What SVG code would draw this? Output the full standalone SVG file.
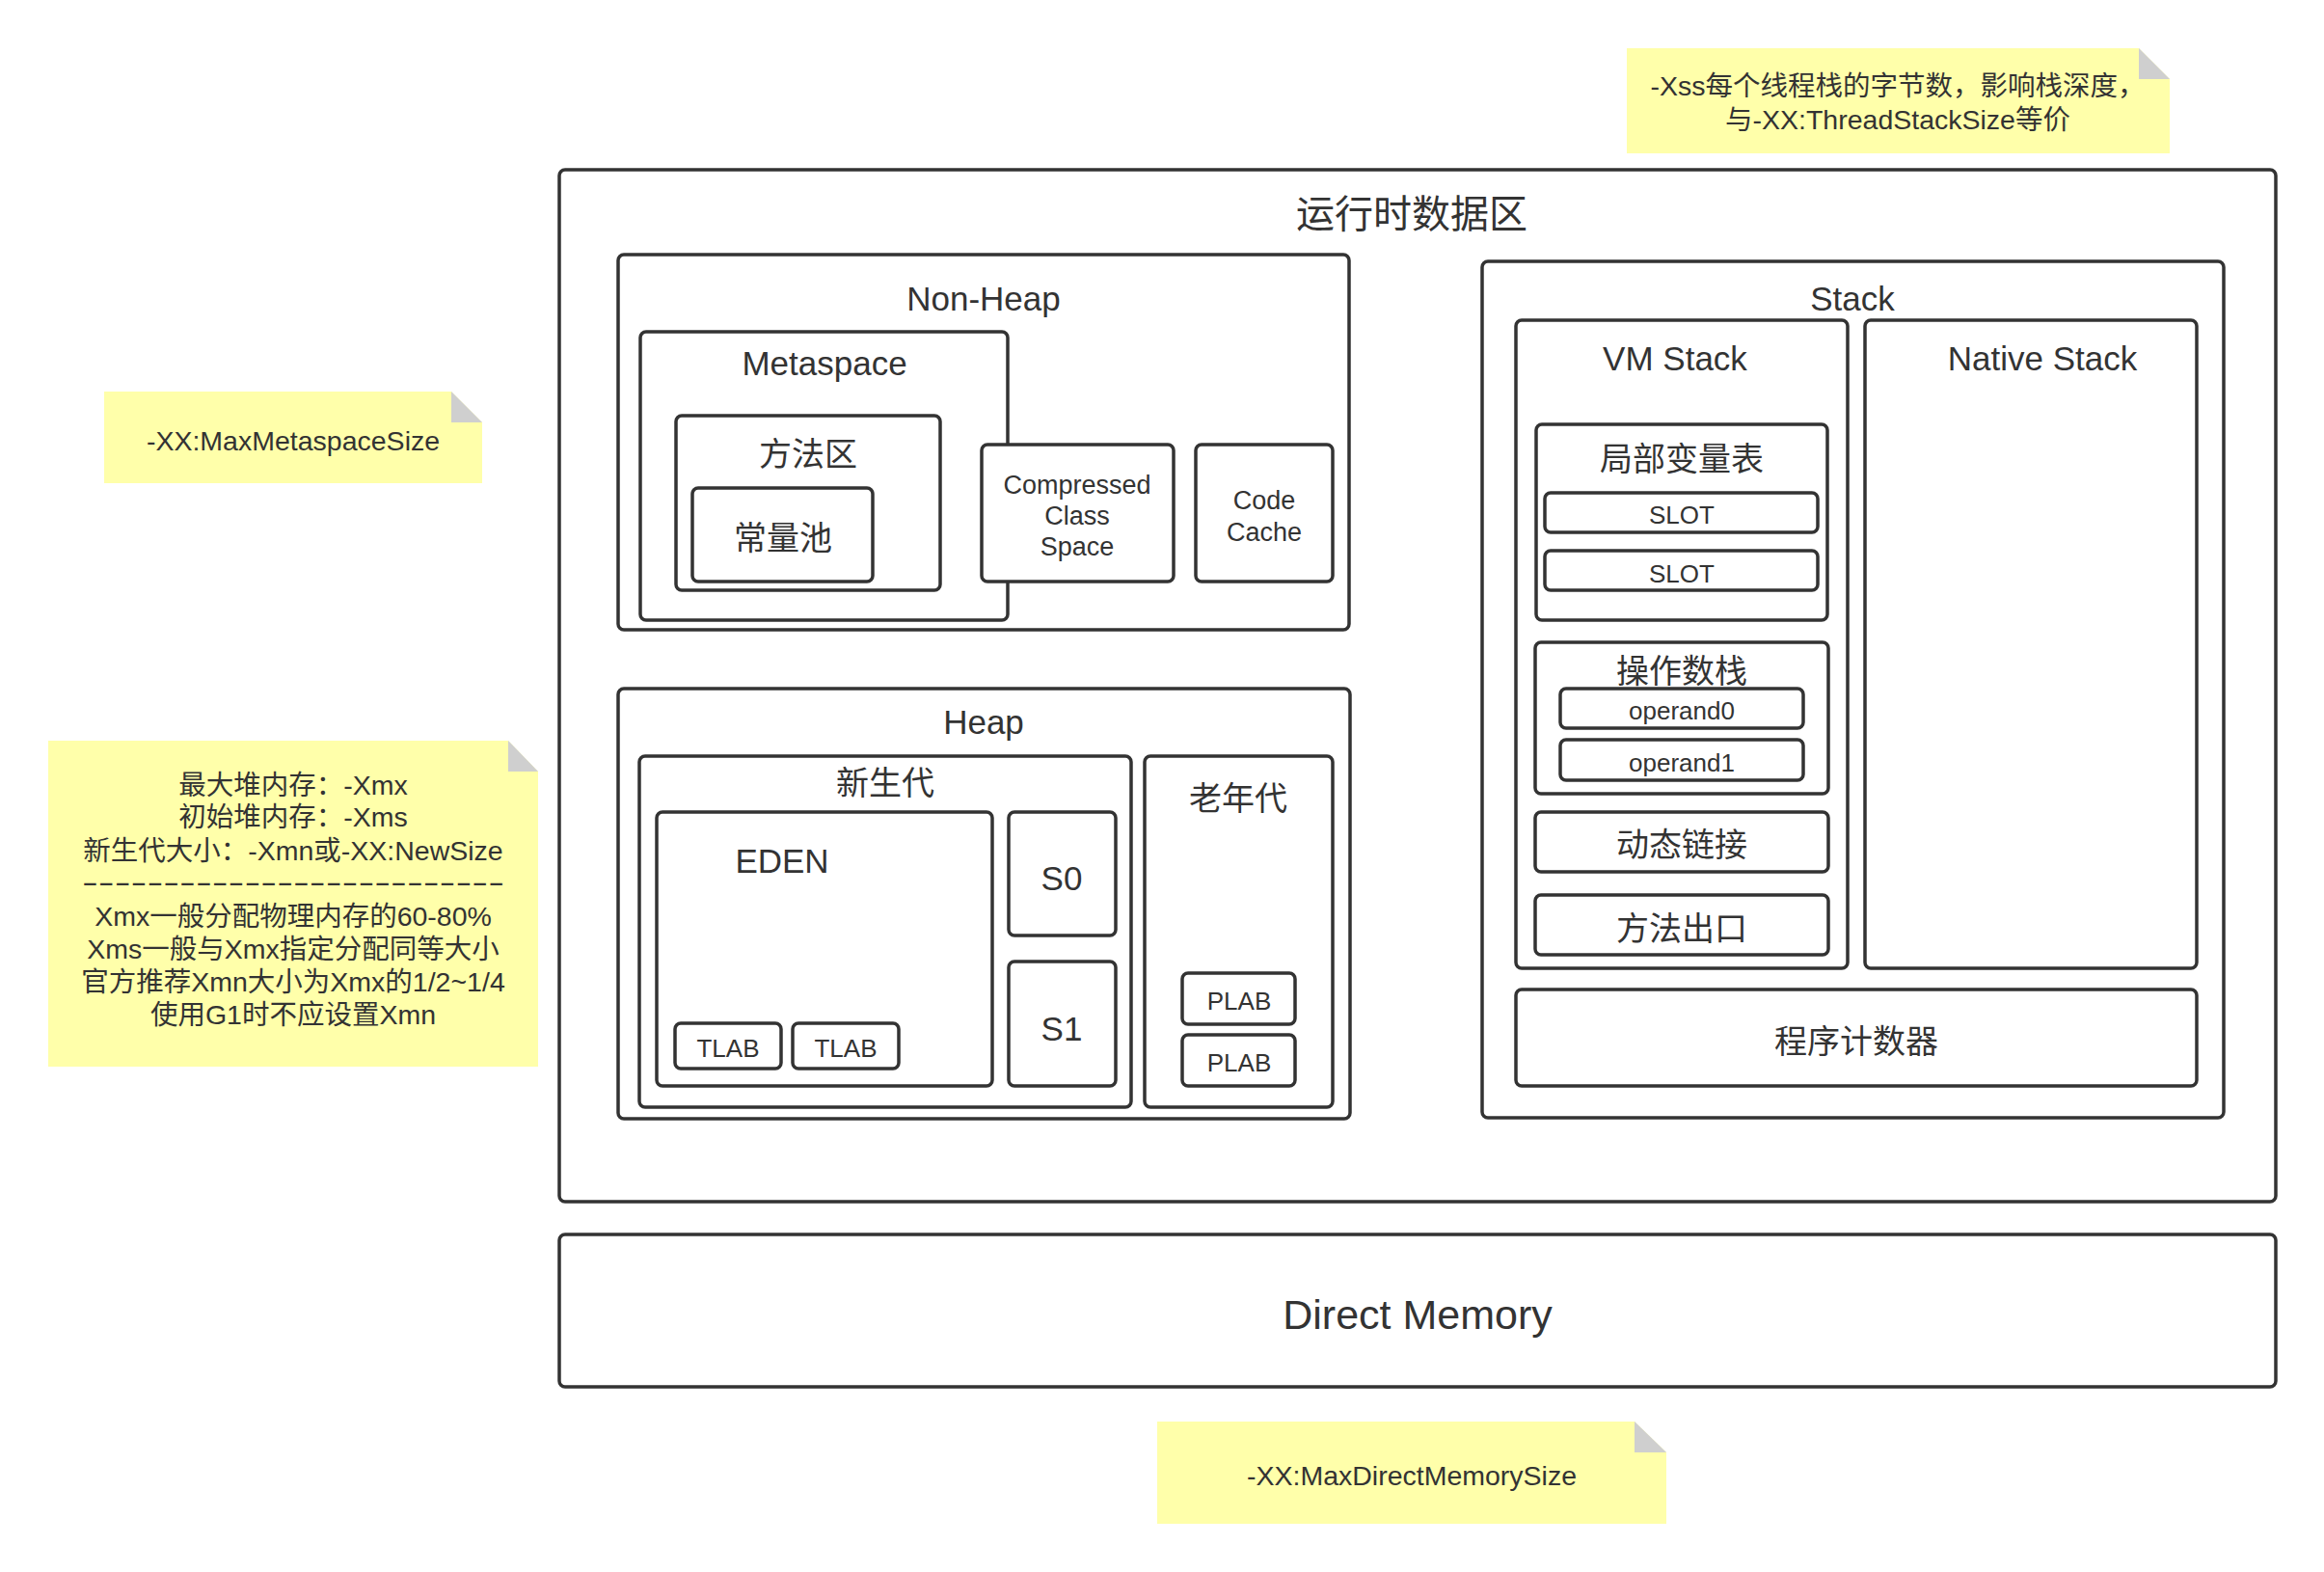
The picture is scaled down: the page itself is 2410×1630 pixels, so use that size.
<svg xmlns="http://www.w3.org/2000/svg" width="2410" height="1630" viewBox="0 0 2410 1630">
<style>
.box{fill:#fff;stroke:#333;stroke-width:3.5}
.t{font-family:"Liberation Sans","Noto Sans CJK SC",sans-serif;fill:#333;text-anchor:middle;dominant-baseline:central}
.title{font-size:40px}
.h{font-size:35px}
.c{font-size:34px}
.m{font-size:27px}
.s{font-size:26px}
.n{font-size:28.5px}
.note{fill:#FFFFAA}
.fold{fill:#CFCFCF}
</style>
<rect width="2410" height="1630" fill="#fff"/>

<g id="note-xss">
<polygon class="note" points="1687,50 2218,50 2250,82 2250,159 1687,159"/>
<polygon class="fold" points="2218,50 2218,82 2250,82"/>
<text class="t n" x="1968" y="89">-Xss每个线程栈的字节数，影响栈深度，</text>
<text class="t n" x="1968" y="124">与-XX:ThreadStackSize等价</text>
</g>

<g id="note-metaspace">
<polygon class="note" points="108,406 468,406 500,438 500,501 108,501"/>
<polygon class="fold" points="468,406 468,438 500,438"/>
<text class="t n" x="304" y="457">-XX:MaxMetaspaceSize</text>
</g>

<g id="note-heap">
<polygon class="note" points="50,768 527,768 558,800 558,1106 50,1106"/>
<polygon class="fold" points="527,768 527,800 558,800"/>
<text class="t n" x="304" y="814">最大堆内存：-Xmx</text>
<text class="t n" x="304" y="847">初始堆内存：-Xms</text>
<text class="t n" x="304" y="882">新生代大小：-Xmn或-XX:NewSize</text>
<text class="t n" x="304" y="914" textLength="438" lengthAdjust="spacingAndGlyphs">--------------------------</text>
<text class="t n" x="304" y="950">Xmx一般分配物理内存的60-80%</text>
<text class="t n" x="304" y="984">Xms一般与Xmx指定分配同等大小</text>
<text class="t n" x="304" y="1018">官方推荐Xmn大小为Xmx的1/2~1/4</text>
<text class="t n" x="304" y="1052">使用G1时不应设置Xmn</text>
</g>

<g id="note-direct">
<polygon class="note" points="1200,1474 1695,1474 1728,1506 1728,1580 1200,1580"/>
<polygon class="fold" points="1695,1474 1695,1506 1728,1506"/>
<text class="t n" x="1464" y="1530">-XX:MaxDirectMemorySize</text>
</g>

<g id="runtime-data-area">
<rect class="box" x="580" y="176" width="1780" height="1070" rx="6"/>
<text class="t title" x="1464" y="222">运行时数据区</text>
</g>

<g id="non-heap">
<rect class="box" x="641" y="264" width="758" height="389" rx="6"/>
<text class="t h" x="1020" y="309">Non-Heap</text>
</g>

<g id="metaspace">
<rect class="box" x="664" y="344" width="381" height="299" rx="6"/>
<text class="t h" x="855" y="376">Metaspace</text>
</g>

<g id="method-area">
<rect class="box" x="701" y="431" width="274" height="181" rx="6"/>
<text class="t c" x="838" y="471">方法区</text>
</g>

<g id="constant-pool">
<rect class="box" x="718" y="506" width="187" height="97" rx="6"/>
<text class="t c" x="812" y="558">常量池</text>
</g>

<g id="compressed-class-space">
<rect class="box" x="1018" y="461" width="199" height="142" rx="6"/>
<text class="t m" x="1117" y="503">Compressed</text>
<text class="t m" x="1117" y="535">Class</text>
<text class="t m" x="1117" y="567">Space</text>
</g>

<g id="code-cache">
<rect class="box" x="1240" y="461" width="142" height="142" rx="6"/>
<text class="t m" x="1311" y="519">Code</text>
<text class="t m" x="1311" y="552">Cache</text>
</g>

<g id="heap">
<rect class="box" x="641" y="714" width="759" height="446" rx="6"/>
<text class="t h" x="1020" y="748">Heap</text>
</g>

<g id="young-gen">
<rect class="box" x="663" y="784" width="510" height="364" rx="6"/>
<text class="t c" x="918" y="812">新生代</text>
</g>

<g id="old-gen">
<rect class="box" x="1187" y="784" width="195" height="364" rx="6"/>
<text class="t c" x="1284" y="828">老年代</text>
</g>

<g id="eden">
<rect class="box" x="681" y="842" width="348" height="284" rx="6"/>
<text class="t h" x="811" y="892">EDEN</text>
</g>

<g id="s0">
<rect class="box" x="1046" y="842" width="111" height="128" rx="6"/>
<text class="t h" x="1101" y="910">S0</text>
</g>

<g id="s1">
<rect class="box" x="1046" y="997" width="111" height="129" rx="6"/>
<text class="t h" x="1101" y="1066">S1</text>
</g>

<g id="tlab1">
<rect class="box" x="700" y="1061" width="110" height="47" rx="6"/>
<text class="t s" x="755" y="1087">TLAB</text>
</g>

<g id="tlab2">
<rect class="box" x="822" y="1061" width="110" height="47" rx="6"/>
<text class="t s" x="877" y="1087">TLAB</text>
</g>

<g id="plab1">
<rect class="box" x="1226" y="1009" width="117" height="53" rx="6"/>
<text class="t s" x="1285" y="1038">PLAB</text>
</g>

<g id="plab2">
<rect class="box" x="1226" y="1073" width="117" height="53" rx="6"/>
<text class="t s" x="1285" y="1102">PLAB</text>
</g>

<g id="stack">
<rect class="box" x="1537" y="271" width="769" height="888" rx="6"/>
<text class="t h" x="1921" y="309">Stack</text>
</g>

<g id="vm-stack">
<rect class="box" x="1572" y="332" width="344" height="672" rx="6"/>
<text class="t h" x="1737" y="371">VM Stack</text>
</g>

<g id="native-stack">
<rect class="box" x="1934" y="332" width="344" height="672" rx="6"/>
<text class="t h" x="2118" y="371">Native Stack</text>
</g>

<g id="local-variables">
<rect class="box" x="1593" y="440" width="302" height="203" rx="6"/>
<text class="t c" x="1744" y="476">局部变量表</text>
</g>

<g id="slot1">
<rect class="box" x="1602" y="511" width="283" height="41" rx="6"/>
<text class="t s" x="1744" y="534">SLOT</text>
</g>

<g id="slot2">
<rect class="box" x="1602" y="571" width="283" height="41" rx="6"/>
<text class="t s" x="1744" y="595">SLOT</text>
</g>

<g id="operand-stack">
<rect class="box" x="1592" y="666" width="304" height="157" rx="6"/>
<text class="t c" x="1744" y="696">操作数栈</text>
</g>

<g id="operand0">
<rect class="box" x="1618" y="714" width="252" height="41" rx="6"/>
<text class="t s" x="1744" y="737">operand0</text>
</g>

<g id="operand1">
<rect class="box" x="1618" y="767" width="252" height="42" rx="6"/>
<text class="t s" x="1744" y="791">operand1</text>
</g>

<g id="dynamic-linking">
<rect class="box" x="1592" y="842" width="304" height="62" rx="6"/>
<text class="t c" x="1744" y="876">动态链接</text>
</g>

<g id="method-exit">
<rect class="box" x="1592" y="928" width="304" height="62" rx="6"/>
<text class="t c" x="1744" y="963">方法出口</text>
</g>

<g id="program-counter">
<rect class="box" x="1572" y="1026" width="706" height="100" rx="6"/>
<text class="t c" x="1925" y="1080">程序计数器</text>
</g>

<g id="direct-memory">
<rect class="box" x="580" y="1280" width="1780" height="158" rx="6"/>
<text class="t" style="font-size:43px" x="1470" y="1363">Direct Memory</text>
</g>

<g id="connectors"/>
</svg>
